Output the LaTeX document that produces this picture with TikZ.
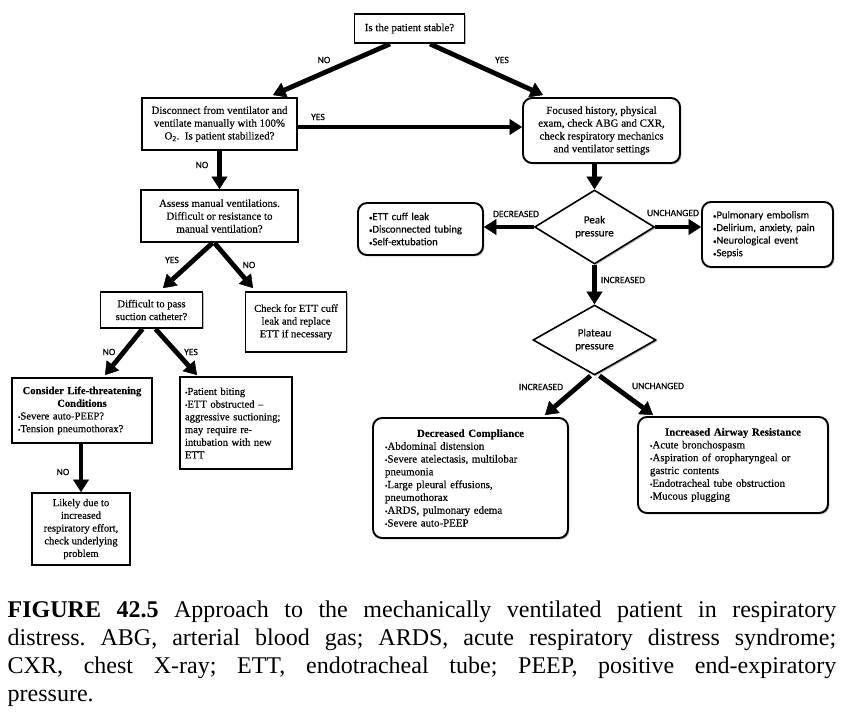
\documentclass[tikz,border=0pt]{standalone}
\usepackage{fontspec}
\setmainfont{Liberation Serif}
\newfontfamily\dser[FakeBold=0.35,Ligatures=TeX]{Liberation Serif}
\newfontfamily\carl[FakeBold=0.35,Ligatures=TeX]{Carlito}
\usetikzlibrary{arrows.meta,shapes.geometric,shadows,calc}
\newcommand{\bu}{{\fontsize{7}{7}\selectfont\textbullet}}
\newcommand{\mctr}[1]{\hspace*{\fill}#1\hspace*{\fill}\null}
\frenchspacing
\begin{document}
\begin{tikzpicture}[x=1pt,y=-1pt,
  shad/.style={drop shadow={shadow xshift=1.4pt,shadow yshift=-1.4pt,fill=black!45,opacity=0.6,draw=none}},
  bx/.style={draw,line width=1.9pt,fill=white,shad,inner sep=2pt,align=center},
  rbx/.style={bx,rounded corners=9pt},
  cam/.style={font=\dser\fontsize{10.9}{12.8}\selectfont},
  tim/.style={font=\dser\fontsize{10.6}{12.7}\selectfont},
  cal/.style={font=\carl\fontsize{10.6}{12.6}\selectfont},
  dia/.style={diamond,aspect=1.6,draw,line width=1.6pt,fill=white,shad,inner sep=0pt,align=center,font=\carl\fontsize{11}{13}\selectfont},
  lbl/.style={font=\carl\fontsize{9.6}{11}\selectfont,inner sep=1pt},
  arr/.style={line width=4.8pt,-{Triangle[length=12.5pt,width=16pt,line width=0.5pt]}},
  sz/.style 2 args={minimum width=#1,minimum height=#2}
]
\fill[white] (0,0) rectangle (848,715);
\useasboundingbox (0,0) rectangle (848,715);

% boxes
\node[bx,cam,sz={110pt}{29pt}] (stable) at (409.5,28.5) {Is the patient stable?};
\node[bx,cam,sz={155pt}{52pt}] (disc) at (219.5,124) {Disconnect from ventilator and\\ ventilate manually with 100\%\\ O\textsubscript{2}.\ \ Is patient stabilized?};
\node[rbx,cam,sz={157pt}{65pt}] (focus) at (601.5,130.5) {Focused history, physical\\ exam, check ABG and CXR,\\ check respiratory mechanics\\ and ventilator settings};
\node[bx,cam,sz={157pt}{52pt}] (assess) at (219.5,216) {Assess manual ventilations.\\ Difficult or resistance to\\ manual ventilation?};
\node[bx,tim,sz={101pt}{60pt}] (check) at (296,322) {Check for ETT cuff\\ leak and replace\\ ETT if necessary};
\node[bx,tim,sz={102pt}{36pt}] (diff) at (151.5,310) {Difficult to pass\\ suction catheter?};
\node[bx,tim,sz={140pt}{65pt},text width=128pt,inner xsep=6pt,align=left] (consider) at (82,410.5) {\mctr{\textbf{Consider Life-threatening}}\\ \mctr{\textbf{Conditions}}\\ \bu Severe auto-PEEP?\\ \bu Tension pneumothorax?};
\node[bx,tim,sz={112pt}{92pt},text width=102pt,inner xsep=5pt,align=left] (biting) at (236,423) {\bu Patient biting\\ \bu ETT obstructed –\\ aggressive suctioning;\\ may require re-\\ intubation with new\\ ETT};
\node[bx,tim,sz={98pt}{72pt}] (likely) at (81,529) {Likely due to\\ increased\\ respiratory effort,\\ check underlying\\ problem};

\node[rbx,cal,sz={125pt}{52pt},text width=103pt,inner xsep=11pt,align=left] (ettleak) at (420.5,229) {\bu ETT cuff leak\\ \bu Disconnected tubing\\ \bu Self-extubation};
\node[dia,sz={120pt}{74pt}] (peak) at (594.5,227) {Peak\\ pressure};
\node[rbx,cal,sz={131pt}{65pt},text width=109pt,inner xsep=11pt,align=left] (unch) at (767.5,234.5) {\bu Pulmonary embolism\\ \bu Delirium, anxiety, pain\\ \bu Neurological event\\ \bu Sepsis};
\node[dia,sz={123pt}{70pt}] (plateau) at (594.5,340) {Plateau\\ pressure};
\node[rbx,cam,sz={195pt}{120pt},text width=171pt,inner xsep=12pt,align=left] (dc) at (470.5,478) {\mctr{\textbf{Decreased Compliance}}\\ \bu Abdominal distension\\ \bu Severe atelectasis, multilobar\\ pneumonia\\ \bu Large pleural effusions,\\ pneumothorax\\ \bu ARDS, pulmonary edema\\ \bu Severe auto-PEEP};
\node[rbx,cam,sz={190pt}{96pt},text width=166pt,inner xsep=12pt,align=left] (iar) at (733,465) {\mctr{\textbf{Increased Airway Resistance}}\\ \bu Acute bronchospasm\\ \bu Aspiration of oropharyngeal or\\ gastric contents\\ \bu Endotracheal tube obstruction\\ \bu Mucous plugging};

% connectors
\draw[arr] ([xshift=-19.5pt]stable.south) -- ([xshift=53.5pt,yshift=2pt]disc.north);
\draw[arr] ([xshift=20.5pt]stable.south) -- ([xshift=-58.5pt,yshift=2pt]focus.north);
\draw[arr] ([yshift=-3pt]disc.east) -- ([yshift=-3pt]disc.east -| focus.west);
\draw[arr] (disc.south) -- (disc.south |- assess.north);
\draw[arr] ([xshift=-7pt]assess.south) -- ([xshift=11.5pt,yshift=3pt]diff.north);
\draw[arr] ([xshift=-5pt]assess.south) -- ([xshift=-43pt,yshift=3pt]check.north);
\draw[arr] ([xshift=-9pt]diff.south) -- ([xshift=23pt,yshift=2pt]consider.north);
\draw[arr] ([xshift=4pt]diff.south) -- ([xshift=-39pt,yshift=1pt]biting.north);
\draw[arr] (consider.south -| likely.north) -- (likely.north);
\draw[arr] (focus.south -| peak.north) -- (peak.north);
\draw[arr] (peak.west) -- (peak.west -| ettleak.east);
\draw[arr] (peak.east) -- (peak.east -| unch.west);
\draw[arr] (peak.south) -- (plateau.north);
\draw[arr] ([xshift=-4pt]plateau.south) -- ([xshift=74.5pt,yshift=2pt]dc.north);
\draw[arr] ([xshift=5pt]plateau.south) -- ([xshift=-80pt,yshift=1pt]iar.north);

% labels
\node[lbl] (l1) at (324,60) {NO};
\node[lbl] (l2) at (502,60) {YES};
\node[lbl] (l3) at (318,117) {YES};
\node[lbl] (l4) at (202,165) {NO};
\node[lbl] (l5) at (172,260) {YES};
\node[lbl] (l6) at (249,265) {NO};
\node[lbl] (l7) at (109,352) {NO};
\node[lbl] (l8) at (191,352) {YES};
\node[lbl] (l9) at (63,472) {NO};
\node[lbl] (l10) at (516,214) {DECREASED};
\node[lbl] (l11) at (673,213) {UNCHANGED};
\node[lbl] (l12) at (623,280) {INCREASED};
\node[lbl] (l13) at (541,387) {INCREASED};
\node[lbl] (l14) at (658,386) {UNCHANGED};

% caption
\begin{scope}[every node/.style={anchor=base west,inner sep=0pt,font=\fontsize{24}{28}\selectfont}]
\node (cap1) at (7.5,617) {\makebox[828.5pt][s]{\textbf{FIGURE 42.5} Approach to the mechanically ventilated patient in respiratory}};
\node (cap2) at (7.5,645) {\makebox[828.5pt][s]{distress. ABG, arterial blood gas; ARDS, acute respiratory distress syndrome;}};
\node (cap3) at (7.5,673) {\makebox[828.5pt][s]{CXR, chest X-ray; ETT, endotracheal tube; PEEP, positive end-expiratory}};
\node (cap4) at (7.5,701) {pressure.};
\end{scope}
\end{tikzpicture}
\end{document}
